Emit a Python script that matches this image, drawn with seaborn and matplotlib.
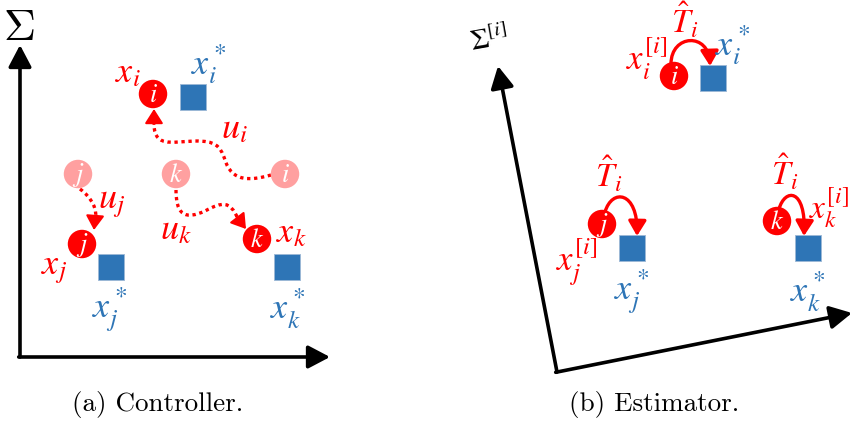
import numpy as np
import pandas as pd
import matplotlib
matplotlib.use("Agg")
import matplotlib.pyplot as plt
import seaborn as sns
from matplotlib.path import Path
from matplotlib.patches import PathPatch, FancyArrowPatch

# ---------------- data (diagram positions, pixel space) ----------------
agents = ["i", "j", "k"]
# (a) Controller
ctrl_now_x = [153, 82, 257]
ctrl_now_y = [94, 244, 239]
ctrl_prev_x = [285, 78, 176]
ctrl_prev_y = [174, 174, 174]
ctrl_goal_x = [193, 111, 287]
ctrl_goal_y = [97, 267, 267]
# (b) Estimator
est_node_x = [674, 602, 777]
est_node_y = [76, 224, 221]
est_goal_x = [713, 632, 808]
est_goal_y = [78, 248, 248]

captions = ["(a) Controller.", "(b) Estimator."]

RED = "#FF0000"
PINK = "#FFA0A0"
BLUE = "#2E75B6"

sns.set_theme(style="white")
plt.rcParams["mathtext.fontset"] = "stix"

fig = plt.figure(figsize=(8.52, 4.23), dpi=100)
ax = fig.add_axes([0, 0, 1, 1])

# ---------------- markers via seaborn ----------------
df_circ = pd.DataFrame({
    "x": ctrl_prev_x + ctrl_now_x + est_node_x,
    "y": ctrl_prev_y + ctrl_now_y + est_node_y,
    "kind": ["prev"] * 3 + ["now"] * 3 + ["now"] * 3,
})
sns.scatterplot(data=df_circ, x="x", y="y", hue="kind",
                palette={"prev": PINK, "now": RED}, marker="o", s=420,
                linewidth=0, legend=False, ax=ax, zorder=3)
df_sq = pd.DataFrame({"x": ctrl_goal_x + est_goal_x, "y": ctrl_goal_y + est_goal_y})
sns.scatterplot(data=df_sq, x="x", y="y", color=BLUE, marker="s", s=330,
                edgecolor="#9DB8D6", linewidth=0.6, legend=False, ax=ax, zorder=3)
ax.set_xlim(0, 852)
ax.set_ylim(423, 0)
ax.axis("off")

# letters inside circles
for xs, ys in [(ctrl_prev_x, ctrl_prev_y), (ctrl_now_x, ctrl_now_y), (est_node_x, est_node_y)]:
    for a, x, y in zip(agents, xs, ys):
        ax.text(x, y + 1, f"${a}$", color="white", fontsize=19,
                ha="center", va="center", zorder=4)

# ---------------- axes arrows ----------------
def axis_arrow(p0, p1):
    ax.annotate("", xy=p1, xytext=p0,
                arrowprops=dict(arrowstyle="-|>,head_length=0.95,head_width=0.5",
                                lw=2.6, color="black", mutation_scale=14,
                                shrinkA=0, shrinkB=0), zorder=2)

axis_arrow((20, 357), (20, 45))
axis_arrow((18.7, 357), (330, 357))
axis_arrow((557, 372), (498, 66))
axis_arrow((555.7, 372.3), (852, 313))

# ---------------- dotted trajectories (a) ----------------
def dotted_path(verts, codes, tip_from, tip_to):
    p = PathPatch(Path(verts, codes), fill=False, edgecolor=RED, lw=2.4,
                  linestyle=(0, (1, 1.1)), capstyle="butt", zorder=2)
    ax.add_patch(p)
    ax.annotate("", xy=tip_to, xytext=tip_from,
                arrowprops=dict(arrowstyle="-|>,head_length=0.55,head_width=0.35",
                                lw=1.5, color=RED, mutation_scale=16,
                                shrinkA=0, shrinkB=0), zorder=2)

C4 = Path.CURVE4
M = Path.MOVETO
dotted_path([(271, 175), (250, 181), (232, 182), (225, 160),
             (220, 145), (215, 141), (195, 141),
             (170, 142), (153, 148), (154, 121)],
            [M, C4, C4, C4, C4, C4, C4, C4, C4, C4],
            (154, 124), (154, 109))
dotted_path([(80, 189), (92, 198), (98, 210), (95, 220)],
            [M, C4, C4, C4], (95, 217), (94, 230))
dotted_path([(176, 190), (176, 215), (185, 220), (205, 211),
             (222, 202), (230, 200), (238, 219)],
            [M, C4, C4, C4, C4, C4, C4], (236, 216), (246, 229))

# ---------------- solid arcs (b) ----------------
def arc(p0, c1, c2, p1):
    path = Path([p0, c1, c2, p1], [M, C4, C4, C4])
    a = FancyArrowPatch(path=path,
                        arrowstyle="-|>,head_length=0.75,head_width=0.45",
                        mutation_scale=12, lw=2.4, color=RED,
                        shrinkA=0, shrinkB=0, zorder=2)
    ax.add_patch(a)

arc((671, 64), (671, 34), (709, 32), (710, 66))
arc((605, 212), (612, 188), (638, 191), (637, 236))
arc((779, 209), (785, 188), (806, 188), (804, 236))

# ---------------- labels ----------------
def lab(x, y, s, c, fs=26, va="center", **kw):
    ax.text(x, y, s, color=c, fontsize=fs, ha="center", va=va, **kw)

ax.text(19, 27, r"$\Sigma$", fontsize=32, ha="center", va="center",
        color="black", math_fontfamily="cm")
lab(128, 72, r"$x_i$", RED)
lab(209, 64, r"$x_i^*$", BLUE)
lab(234, 128, r"$u_i$", RED)
lab(112, 203, r"$u_j$", RED)
lab(176, 229, r"$u_k$", RED)
lab(54, 269, r"$x_j$", RED)
lab(110, 309, r"$x_j^*$", BLUE)
lab(291, 232, r"$x_k$", RED)
lab(288, 309, r"$x_k^*$", BLUE)

lab(489, 40, r"$\Sigma^{[i]}$", "black", fs=21, rotation=10)
lab(685, 33, r"$\hat{T}_i$", RED, fs=24, va="baseline")
lab(647, 59, r"$x_i^{[i]}$", RED, fs=25)
lab(733, 45, r"$x_i^*$", BLUE)
lab(609, 187, r"$\hat{T}_i$", RED, fs=24, va="baseline")
lab(577, 262, r"$x_j^{[i]}$", RED, fs=25)
lab(632, 292, r"$x_j^*$", BLUE)
lab(785, 185, r"$\hat{T}_i$", RED, fs=24, va="baseline")
lab(829, 208, r"$x_k^{[i]}$", RED, fs=24)
lab(808, 292, r"$x_k^*$", BLUE)

# captions
for cx, cap in zip([158, 654], captions):
    ax.text(cx, 404, cap, fontsize=19.5, ha="center", va="center",
            color="black", family="cmr10")

fig.savefig("out.png", dpi=100)
